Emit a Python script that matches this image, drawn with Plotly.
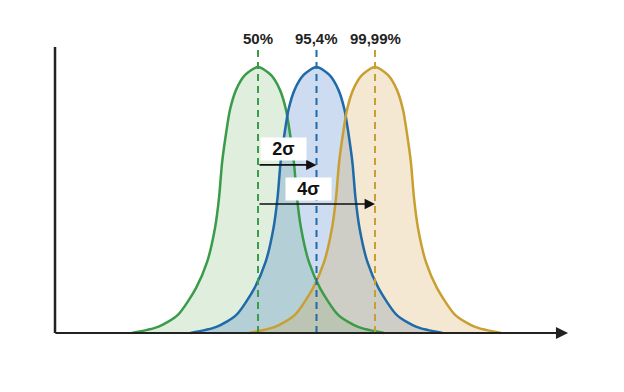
import plotly.graph_objects as go

# Data (x in sigma units, y as fraction of peak height)
green_x = [-4.31, -3.42, -2.74, -2.12, -1.74, -1.47, -1.33, -1.23, -1.09, -0.96, -0.75, -0.44, 0.0,
           0.44, 0.75, 0.96, 1.09, 1.23, 1.33, 1.47, 1.74, 2.12, 2.74, 3.42, 4.31]
blue_x = [-2.31, -1.42, -0.74, -0.12, 0.26, 0.53, 0.67, 0.77, 0.91, 1.04, 1.25, 1.56, 2.0,
          2.44, 2.75, 2.96, 3.09, 3.23, 3.33, 3.47, 3.74, 4.12, 4.74, 5.42, 6.31]
yellow_x = [-0.31, 0.58, 1.26, 1.88, 2.26, 2.53, 2.67, 2.77, 2.91, 3.04, 3.25, 3.56, 4.0,
            4.44, 4.75, 4.96, 5.09, 5.23, 5.33, 5.47, 5.74, 6.12, 6.74, 7.42, 8.31]
curve_y = [0.0, 0.023, 0.068, 0.169, 0.267, 0.395, 0.511, 0.639, 0.752, 0.838, 0.914, 0.970, 1.0,
           0.970, 0.914, 0.838, 0.752, 0.639, 0.511, 0.395, 0.267, 0.169, 0.068, 0.023, 0.0]

means = [0, 2, 4]
top_labels = ["50%", "95,4%", "99,99%"]
shift_labels = ["2σ", "4σ"]
shift_ends = [2, 4]

line_colors = ["#3a9b48", "#1f6aa8", "#c8a031"]
fill_colors = ["rgba(95,170,85,0.2)", "rgba(55,115,195,0.25)", "rgba(211,163,75,0.25)"]
curves_x = [green_x, blue_x, yellow_x]

fig = go.Figure()
for cx, fc in zip(curves_x, fill_colors):
    fig.add_trace(go.Scatter(x=cx, y=curve_y, mode="lines", fill="tozeroy", fillcolor=fc,
                             line=dict(width=0, shape="spline", smoothing=0.7), hoverinfo="skip"))
for cx, lc in zip(curves_x, line_colors):
    fig.add_trace(go.Scatter(x=cx, y=curve_y, mode="lines",
                             line=dict(color=lc, width=2.5, shape="spline", smoothing=0.7), hoverinfo="skip"))
for m, lc in zip(means, line_colors):
    fig.add_trace(go.Scatter(x=[m, m], y=[0, 1.07], mode="lines",
                             line=dict(color=lc, width=2, dash="7px,5px"), hoverinfo="skip"))

# axes
fig.add_shape(type="line", x0=-6.94, x1=-6.94, y0=0, y1=1.075, line=dict(color="#222222", width=2.5))
fig.add_annotation(x=10.6, y=0, ax=-6.98, ay=0, xref="x", yref="y", axref="x", ayref="y",
                   showarrow=True, arrowhead=2, arrowsize=1.1, arrowwidth=2.2, arrowcolor="#222222", text="")

# shift arrows
arrow_y = [0.632, 0.485]
label_pos = [(0.855, 0.692), (1.74, 0.541)]
for end, ay_, lab, (lx, ly) in zip(shift_ends, arrow_y, shift_labels, label_pos):
    fig.add_annotation(x=end, y=ay_, ax=0, ay=ay_, xref="x", yref="y", axref="x", ayref="y",
                       showarrow=True, arrowhead=2, arrowsize=1.3, arrowwidth=1.6, arrowcolor="#111111", text="")
    fig.add_annotation(x=lx, y=ly, xref="x", yref="y", text="<b>" + lab + "</b>", showarrow=False,
                       bgcolor="white", width=45, height=22, borderpad=0,
                       font=dict(family="Liberation Sans, Arial", size=18, color="#111111"))

for m, lab in zip(means, top_labels):
    fig.add_annotation(x=m, y=1.109, xref="x", yref="y", text="<b>" + lab + "</b>", showarrow=False,
                       font=dict(family="Liberation Sans, Arial", size=15, color="#222222"))

fig.update_layout(
    width=624, height=392, margin=dict(l=0, r=0, t=0, b=0),
    paper_bgcolor="white", plot_bgcolor="white", showlegend=False,
    xaxis=dict(range=[-8.547, 12.786], visible=False, fixedrange=True),
    yaxis=dict(range=[-0.2519, 1.2218], visible=False, fixedrange=True),
)
fig.write_html("out.html")
